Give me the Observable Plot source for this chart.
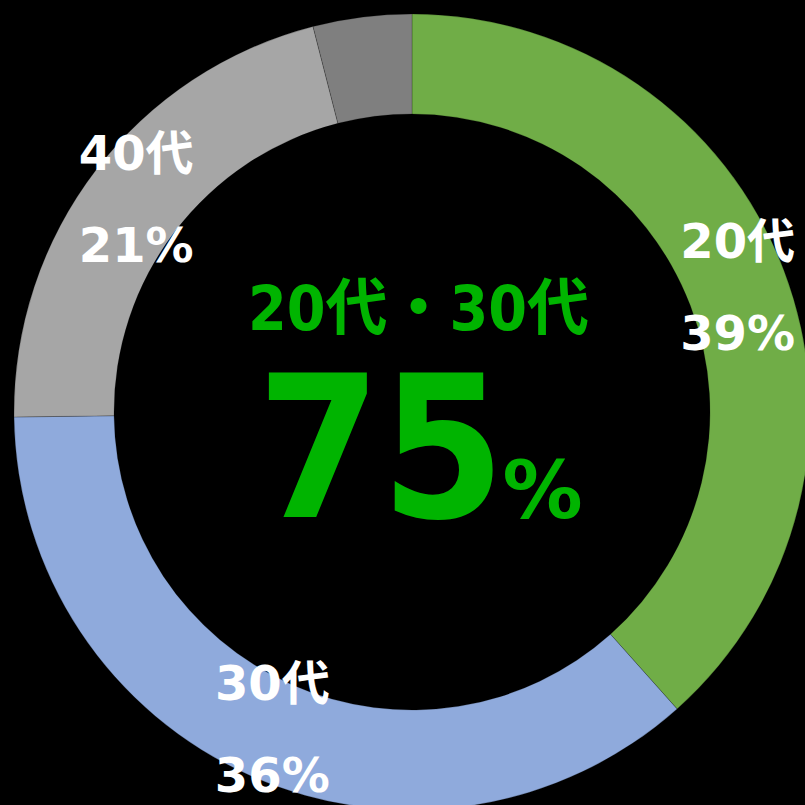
<!DOCTYPE html>
<html><head><meta charset="utf-8">
<script src="https://cdn.jsdelivr.net/npm/d3@7"></script>
<script src="https://cdn.jsdelivr.net/npm/@observablehq/plot@0.6"></script>
<style>html,body{margin:0;padding:0;background:#000;overflow:hidden;} #chart{width:805px;height:805px;}</style>
</head><body><div id="chart"></div>
<script>
// ---- data ----
const categories = ["20代", "30代", "40代", "その他"];
const shares = [38.4, 36.4, 21.2, 4.0];
const percentLabels = ["39%", "36%", "21%", ""];
const colors = ["#70AD47", "#8FAADC", "#A6A6A6", "#7F7F7F"];
const centerTitle = ["20代・30代"];
const centerValue = ["75"];
const centerUnit = ["%"];

// ---- layout ----
const OUTER = 398, INNER = 298, LABEL_R = 348;
const FONT = "'DejaVu Sans', 'Noto Sans CJK JP', sans-serif";
const FONT_COND = "'DejaVu Sans Condensed', 'DejaVu Sans', 'Noto Sans CJK JP', sans-serif";

const rows = categories.map((c, i) => ({category: c, share: shares[i], pct: percentLabels[i], color: colors[i]}));
const arcs = d3.pie().sort(null).value(d => d.share)(rows);
const labels = arcs.filter(a => a.data.pct !== "").map(a => {
  const mid = (a.startAngle + a.endAngle) / 2;
  return {name: a.data.category, pct: a.data.pct, x: LABEL_R * Math.sin(mid), y: -LABEL_R * Math.cos(mid)};
});

function donut(index, scales) {
  const cx = scales.x(0), cy = scales.y(0);
  const k = scales.x(1) - scales.x(0);
  const arc = d3.arc().innerRadius(INNER * k).outerRadius(OUTER * k);
  const g = d3.create("svg:g").attr("transform", `translate(${cx},${cy})`);
  g.selectAll("path").data(arcs).join("path")
    .attr("d", arc)
    .attr("fill", d => d.data.color)
    .attr("stroke", "#000")
    .attr("stroke-opacity", 0.25)
    .attr("stroke-width", 0.8);
  return g.node();
}

const chart = Plot.plot({
  width: 805,
  height: 805,
  margin: 0,
  x: {domain: [-412, 393], range: [0, 805], axis: null},
  y: {domain: [-412, 393], range: [0, 805], axis: null},
  style: {background: "#000", fontFamily: FONT},
  marks: [
    donut,
    Plot.text(labels, {x: "x", y: "y", text: "name", dy: -46, fill: "#fff", fontSize: 48, fontWeight: "bold", fontFamily: FONT}),
    Plot.text(labels, {x: "x", y: "y", text: "pct", dy: 46, fill: "#fff", fontSize: 48, fontWeight: "bold", fontFamily: FONT}),
    Plot.text(centerTitle, {text: d => d, frameAnchor: "middle", dx: 15.5, dy: -92.5, fill: "#00B400", fontSize: 62, fontWeight: "bold", fontFamily: FONT_COND}),
    Plot.text(centerValue, {text: d => d, frameAnchor: "middle", textAnchor: "end", dx: 102, dy: 51.1, fill: "#00B400", fontSize: 198, fontWeight: "bold", fontFamily: FONT_COND}),
    Plot.text(centerUnit, {text: d => d, frameAnchor: "middle", textAnchor: "start", dx: 99.5, dy: 89, fill: "#00B400", fontSize: 80, fontWeight: "bold", fontFamily: FONT})
  ]
});
document.getElementById("chart").appendChild(chart);
</script>
</body></html>
